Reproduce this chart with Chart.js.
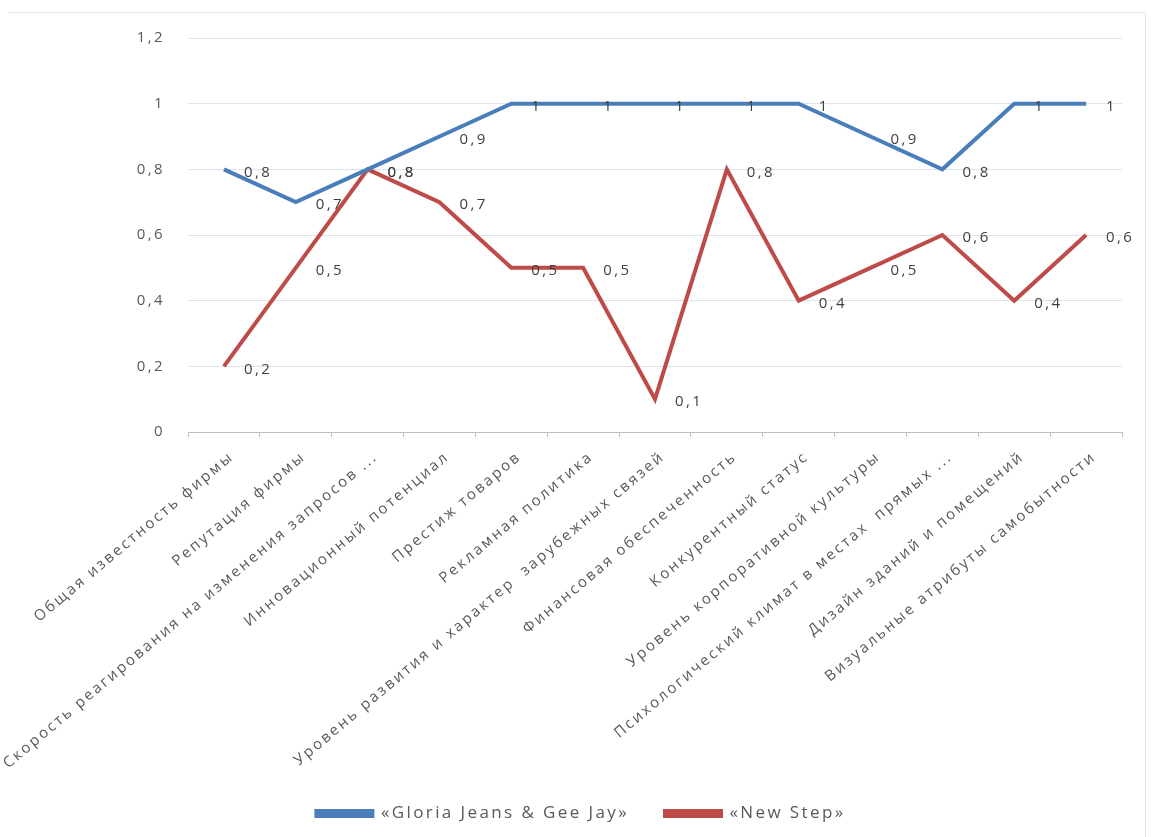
<!DOCTYPE html>
<html>
<head>
<meta charset="utf-8">
<script src="https://cdn.jsdelivr.net/npm/chart.js@4"></script>
<style>
  html, body { margin: 0; padding: 0; background: #fff; }
  #wrap { width: 1152px; height: 837px; }
</style>
</head>
<body>
<div id="wrap"><canvas id="chart-1"></canvas></div>
<script>
// categories and values
const categories = [
  'Общая известность фирмы',
  'Репутация фирмы',
  'Скорость реагирования на изменения запросов ...',
  'Инновационный потенциал',
  'Престиж товаров',
  'Рекламная политика',
  'Уровень развития и характер  зарубежных связей',
  'Финансовая обеспеченность',
  'Конкурентный статус',
  'Уровень корпоративной культуры',
  'Психологический климат в местах  прямых ...',
  'Дизайн зданий и помещений',
  'Визуальные атрибуты самобытности'
];
const gloriaValues = [0.8, 0.7, 0.8, 0.9, 1, 1, 1, 1, 1, 0.9, 0.8, 1, 1];
const newStepValues = [0.2, 0.5, 0.8, 0.7, 0.5, 0.5, 0.1, 0.8, 0.4, 0.5, 0.6, 0.4, 0.6];
const seriesNames = ['«Gloria Jeans & Gee Jay»', '«New Step»'];
const yTicks = [0, 0.2, 0.4, 0.6, 0.8, 1, 1.2];

const FONT = 'Open Sans';
const TEXT = '#595959';
const SPACING = '2.4px'; // the original text is drawn quite wide

function comma(v){
  return String(Math.round(v * 10) / 10).replace('.', ',');
}

// wide letter spacing for all text (canvas state gets reset on resize)
const wideText = {
  id: 'wideText',
  beforeUpdate(chart){ chart.ctx.letterSpacing = SPACING; },
  beforeLayout(chart){ chart.ctx.letterSpacing = SPACING; },
  beforeDraw(chart){ chart.ctx.letterSpacing = SPACING; }
};

// faint frame of the chart object (top and right edges)
const frame = {
  id: 'frame',
  beforeDraw(chart){
    const ctx = chart.ctx;
    ctx.save();
    ctx.strokeStyle = '#E4E4E4';
    ctx.lineWidth = 1;
    ctx.beginPath();
    ctx.moveTo(8, 12.5);
    ctx.lineTo(chart.width - 6.5, 12.5);
    ctx.lineTo(chart.width - 6.5, chart.height);
    ctx.stroke();
    ctx.restore();
  }
};

// simple data labels, to the right of each point
const pointLabels = {
  id: 'pointLabels',
  afterDatasetsDraw(chart){
    const ctx = chart.ctx;
    ctx.save();
    ctx.font = '15px "' + FONT + '"';
    ctx.fillStyle = '#404040';
    ctx.textAlign = 'left';
    ctx.textBaseline = 'middle';
    chart.data.datasets.forEach((ds, i) => {
      chart.getDatasetMeta(i).data.forEach((pt, j) => {
        ctx.fillText(comma(ds.data[j]), pt.x + 20, pt.y + 3);
      });
    });
    ctx.restore();
  }
};

new Chart(document.querySelector('#chart-1'), {
  type: 'line',
  data: {
    labels: categories,
    datasets: [{
      label: seriesNames[0],
      data: gloriaValues,
      borderColor: '#4A7EBB',
      backgroundColor: '#4A7EBB',
      borderWidth: 4,
      pointRadius: 0,
      tension: 0
    }, {
      label: seriesNames[1],
      data: newStepValues,
      borderColor: '#BE4B48',
      backgroundColor: '#BE4B48',
      borderWidth: 4,
      pointRadius: 0,
      tension: 0
    }]
  },
  options: {
    responsive: true,
    maintainAspectRatio: false,
    animation: false,
    layout: { padding: { left: 40, right: 30, top: 38, bottom: 5 } },
    plugins: {
      tooltip: { enabled: false },
      legend: {
        position: 'bottom',
        labels: {
          color: TEXT,
          font: { family: FONT, size: 17 },
          boxWidth: 56,
          boxHeight: 5,
          padding: 36
        }
      }
    },
    scales: {
      x: {
        offset: true,
        afterFit(scale){ scale.height = 337; },
        grid: {
          offset: true,
          drawOnChartArea: false,
          tickLength: 5,
          color: '#BFBFBF'
        },
        border: { color: '#BFBFBF' },
        ticks: {
          color: TEXT,
          font: { family: FONT, size: 15 },
          minRotation: 40,
          maxRotation: 40,
          autoSkip: false,
          padding: 11,
          labelOffset: 8
        }
      },
      y: {
        min: 0,
        max: 1.2,
        afterFit(scale){ scale.width = 148; },
        afterBuildTicks(scale){ scale.ticks = yTicks.map(v => ({ value: v })); },
        grid: { color: '#DCE3EE', drawTicks: false },
        border: { display: false },
        ticks: {
          color: TEXT,
          font: { family: FONT, size: 15 },
          padding: 23,
          callback: v => comma(v)
        }
      }
    }
  },
  plugins: [wideText, frame, pointLabels]
});
</script>
</body>
</html>
